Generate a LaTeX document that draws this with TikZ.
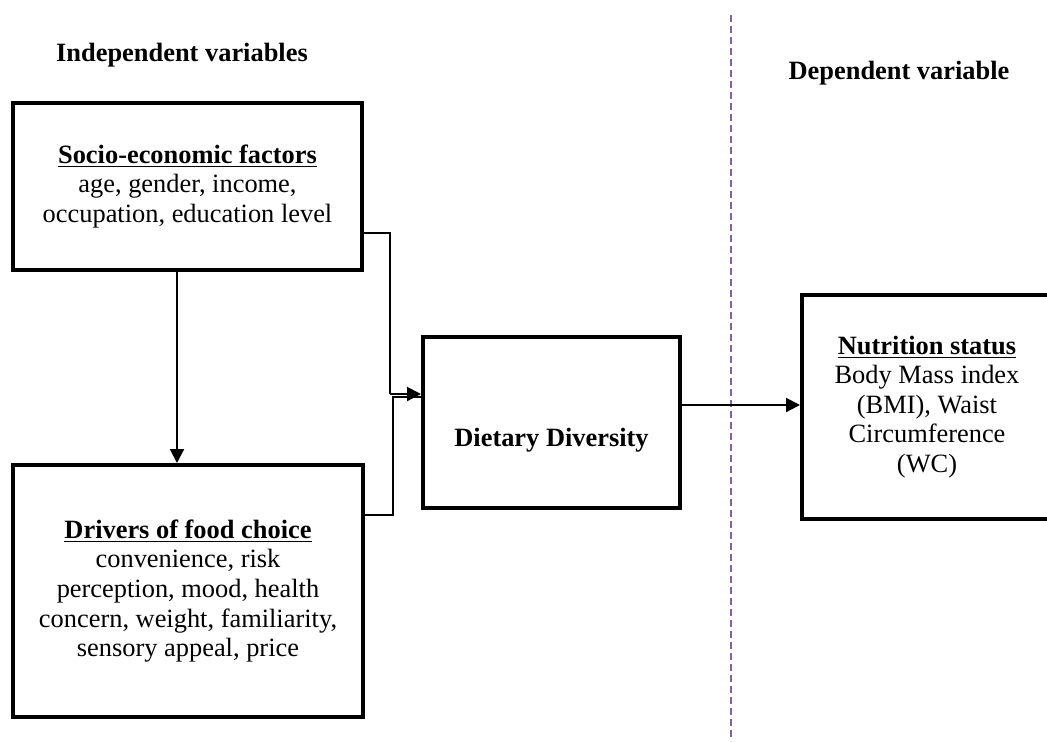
\documentclass[tikz,border=0pt]{standalone}
\usepackage{fontspec}
\setmainfont{Liberation Serif}
\usetikzlibrary{arrows.meta}
\definecolor{divider}{RGB}{128,100,162}
\tikzset{
  varbox/.style={draw, line width=2pt, align=center, inner sep=2pt},
  link/.style={line width=1pt},
  linkarrow/.style={link, -{Triangle[length=7pt,width=7pt]}},
  heading/.style={font=\bfseries}
}
\begin{document}
\fontsize{13.2}{14.8}\selectfont
\begin{tikzpicture}[x=0.5pt, y=-0.5pt]
    \useasboundingbox (0,0) rectangle (1047,741);
    % headings
    \node[heading] (indep) at (182,55) {Independent variables};
    \node[heading] (dep) at (899,73) {Dependent variable};
    % divider between the two sides
    \draw[divider, line width=1pt, dash pattern=on 3.5pt off 2pt] (731,15) -- (731,741);
    % boxes
    \node[varbox, minimum width=174.5pt, minimum height=83.5pt] (socio) at (187.5,186.5)
        {\underline{\textbf{Socio-economic factors}}\\ age, gender, income,\\ occupation, education level};
    \node[varbox, minimum width=175pt, minimum height=126pt] (drivers) at (188,591)
        {\underline{\textbf{Drivers of food choice}}\\ convenience, risk\\ perception, mood, health\\ concern, weight, familiarity,\\ sensory appeal, price};
    \node[varbox, minimum width=128.5pt, minimum height=85.5pt, text height=27pt, text depth=3pt] (diet) at (551.5,422.5)
        {\textbf{Dietary Diversity}};
    \node[varbox, minimum width=125pt, minimum height=112pt] (nutri) at (927,407)
        {\underline{\textbf{Nutrition status}}\\ Body Mass index\\ (BMI), Waist\\ Circumference\\ (WC)};
    % connectors
    \coordinate (join) at (390,394);
    \draw[linkarrow] (socio.south -| 177,0) -- (drivers.north -| 177,0);
    \draw[link] (socio.east |- 0,233) -| (join);
    \draw[link] (drivers.east |- 0,515) -| (393,397) -- (diet.west |- 0,397);
    \draw[linkarrow] (join) -- (diet.west |- join);
    \draw[linkarrow] (diet.east |- 0,405) -- (nutri.west |- 0,405);
\end{tikzpicture}
\end{document}
